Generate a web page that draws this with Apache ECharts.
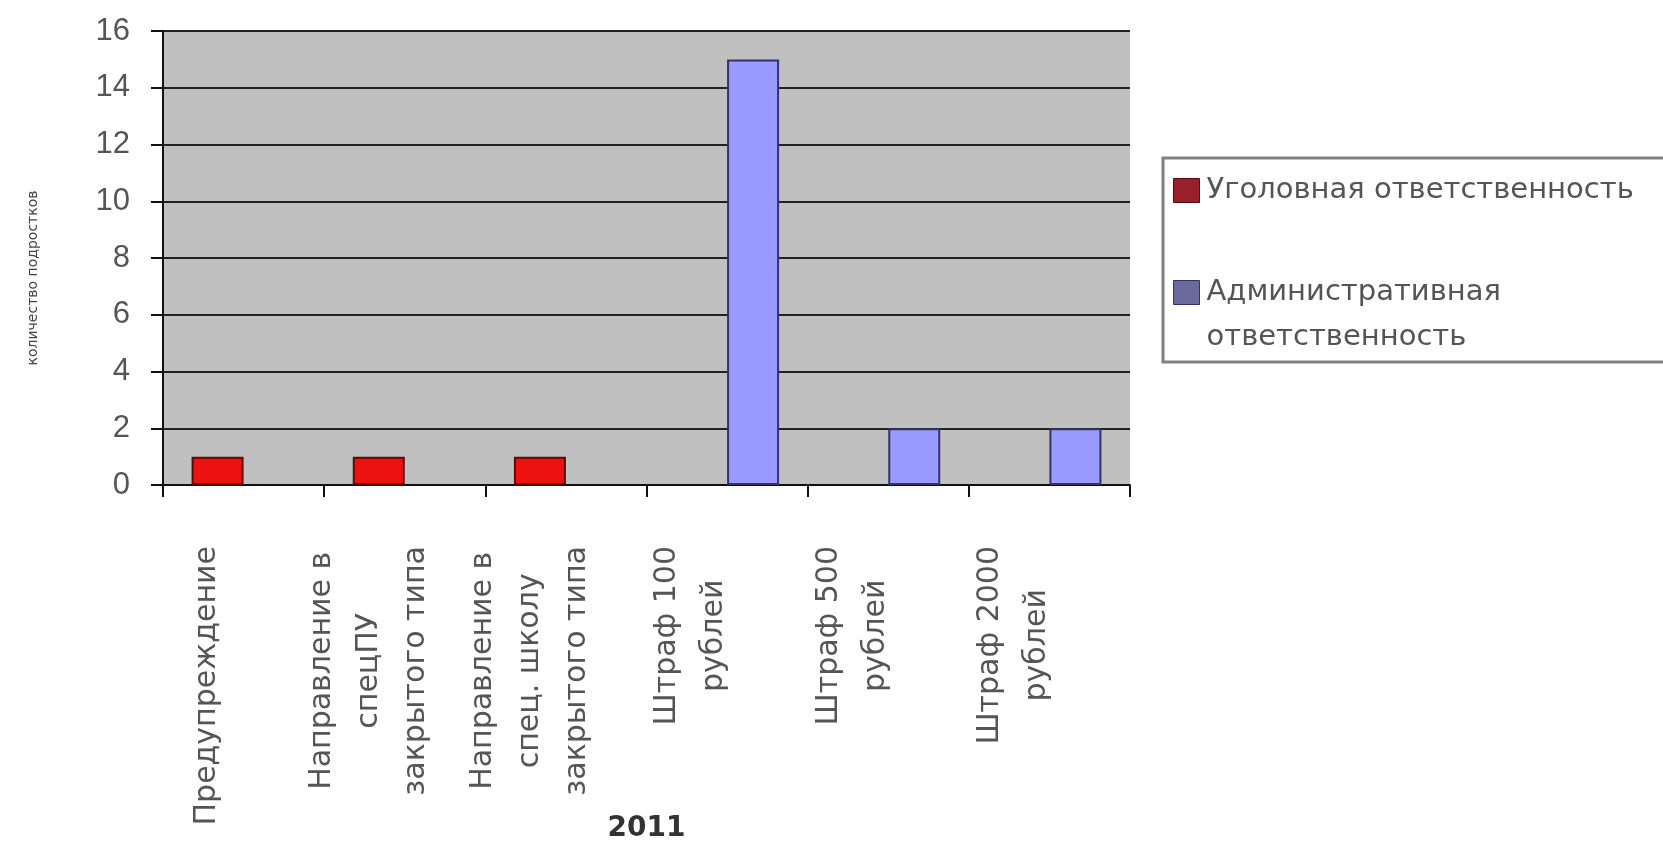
<!DOCTYPE html>
<html>
<head>
<meta charset="utf-8">
<script src="https://cdn.jsdelivr.net/npm/echarts@6/dist/echarts.min.js"></script>
<style>
html,body{margin:0;padding:0;background:#fff;}
#chart{width:1663px;height:842px;}
</style>
</head>
<body>
<div id="chart"></div>
<script>
const categories = [
  'Предупреждение',
  'Направление в\nспецПУ\nзакрытого типа',
  'Направление в\nспец. школу\nзакрытого типа',
  'Штраф 100\nрублей',
  'Штраф 500\nрублей',
  'Штраф 2000\nрублей'
];
const seriesNames = ['Уголовная ответственность', 'Административная ответственность'];
const criminal = [1, 1, 1, null, null, null];
const administrative = [null, null, null, 15, 2, 2];
const yMin = 0, yMax = 16, yInterval = 2;
const xAxisName = '2011';
const yAxisName = 'количество подростков';

const chart = echarts.init(document.getElementById('chart'));
chart.setOption({
  backgroundColor: '#ffffff',
  animation: false,
  grid: {
    left: 163, right: 533, top: 31, bottom: 357,
    containLabel: false,
    outerBoundsMode: 'none',
    show: true, backgroundColor: '#c0c0c0', borderWidth: 0
  },
  legend: {
    orient: 'vertical',
    left: 1163, top: 158,
    padding: [10, 60, 2, 10],
    itemGap: 12,
    itemWidth: 26, itemHeight: 24,
    icon: 'rect',
    backgroundColor: '#ffffff',
    borderColor: '#808080', borderWidth: 3,
    data: [
      { name: seriesNames[0], itemStyle: { color: '#9a1f2c', borderColor: '#5a0a0a', borderWidth: 1 } },
      { name: seriesNames[1], itemStyle: { color: '#6a6a9c', borderColor: '#333366', borderWidth: 1 } }
    ],
    formatter: function (name) {
      return name === seriesNames[1] ? '\n' + name.replace(' ', '\n') : name;
    },
    textStyle: {
      fontFamily: 'DejaVu Sans', fontSize: 29, color: '#555', lineHeight: 45,
      padding: [0, 0, 0, 2]
    }
  },
  xAxis: {
    type: 'category',
    data: categories,
    name: xAxisName,
    nameLocation: 'middle',
    nameGap: 330,
    nameMoveOverlap: false,
    nameTextStyle: { fontFamily: 'DejaVu Sans', fontSize: 28, fontWeight: 'bold', color: '#333', verticalAlign: 'top' },
    axisLine: { show: true, lineStyle: { color: '#111', width: 2 } },
    axisTick: { show: true, alignWithLabel: false, length: 12, lineStyle: { color: '#111', width: 2 } },
    axisLabel: {
      interval: 0,
      rotate: 90,
      margin: 61,
      padding: [0, 0, 72, 0],
      color: '#555',
      fontFamily: 'DejaVu Sans',
      fontSize: 30,
      lineHeight: 47,
      formatter: function (v) {
        return v.split('\n').map(function (s) { return '{c|' + s + '}'; }).join('\n');
      },
      rich: {
        c: { align: 'center', fontFamily: 'DejaVu Sans', fontSize: 30, lineHeight: 47, color: '#555' }
      }
    }
  },
  yAxis: {
    type: 'value',
    min: yMin, max: yMax, interval: yInterval,
    name: yAxisName,
    nameLocation: 'middle',
    nameRotate: 90,
    nameGap: 123,
    nameMoveOverlap: false,
    nameTextStyle: { fontFamily: 'DejaVu Sans', fontSize: 14, color: '#444', padding: [0, 40, 0, 0] },
    axisLine: { show: true, lineStyle: { color: '#111', width: 2 } },
    axisTick: { show: true, length: 12, lineStyle: { color: '#111', width: 2 } },
    axisLabel: { margin: 33, color: '#555', fontFamily: 'Liberation Sans', fontSize: 31 },
    splitLine: { show: true, lineStyle: { color: '#222', width: 2 } }
  },
  series: [
    {
      name: seriesNames[0], type: 'bar', data: criminal,
      barWidth: 52, barGap: '0%',
      itemStyle: { color: '#ee1111', borderColor: '#5a0a0a', borderWidth: 2 }
    },
    {
      name: seriesNames[1], type: 'bar', data: administrative,
      barWidth: 52, barGap: '0%',
      itemStyle: { color: '#9999ff', borderColor: '#333366', borderWidth: 2 }
    }
  ]
});
</script>
</body>
</html>
